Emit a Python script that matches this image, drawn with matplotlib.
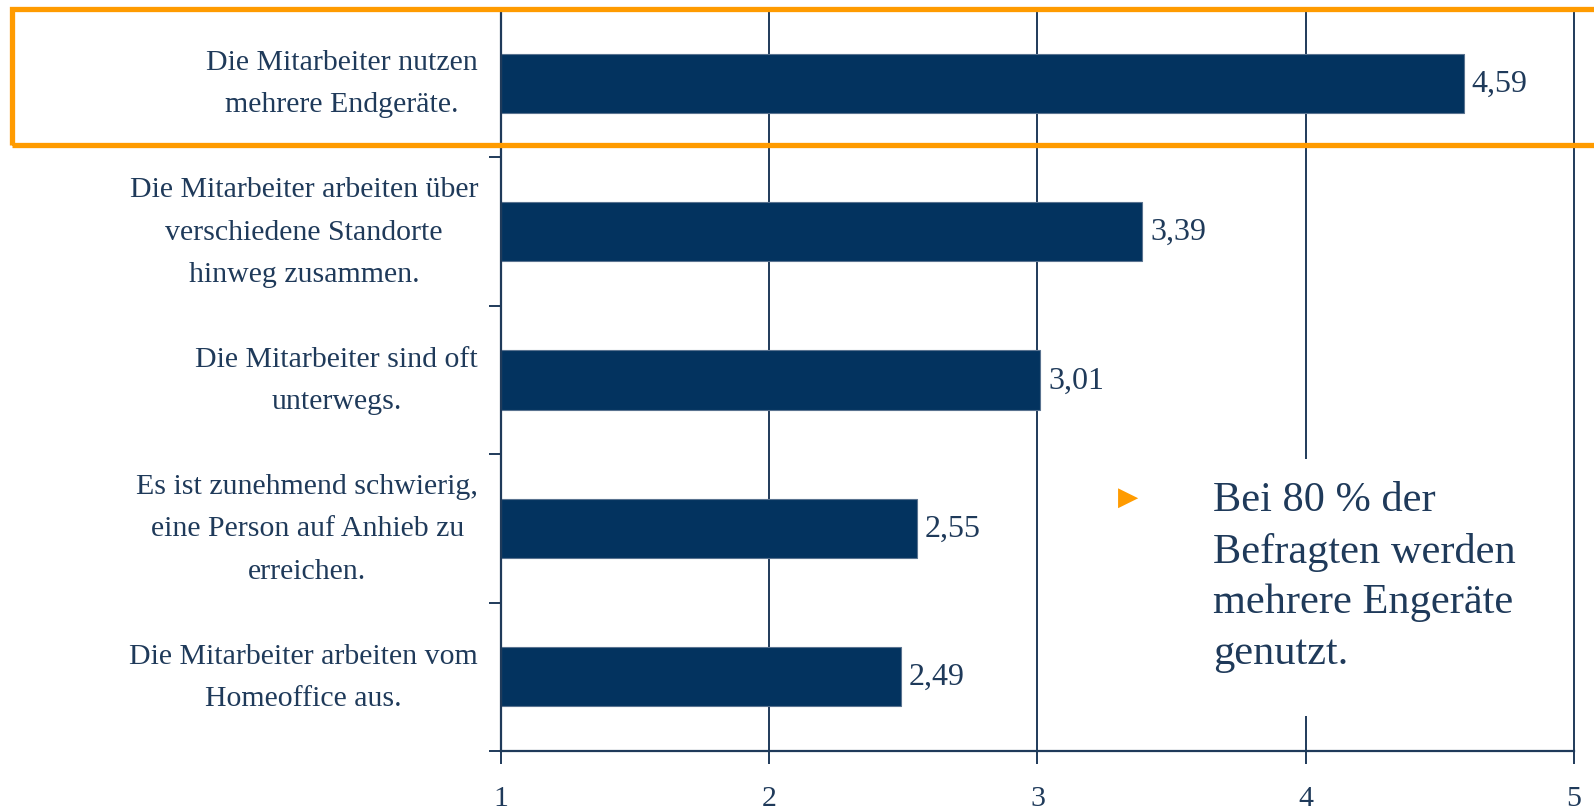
import matplotlib

matplotlib.use("Agg")
import matplotlib.pyplot as plt
from matplotlib.patches import Rectangle

# survey statements (top to bottom) and their mean agreement score
statements = [
    "Die Mitarbeiter nutzen\nmehrere Endgeräte.",
    "Die Mitarbeiter arbeiten über\nverschiedene Standorte\nhinweg zusammen.",
    "Die Mitarbeiter sind oft\nunterwegs.",
    "Es ist zunehmend schwierig,\neine Person auf Anhieb zu\nerreichen.",
    "Die Mitarbeiter arbeiten vom\nHomeoffice aus.",
]
scores = [4.59, 3.39, 3.01, 2.55, 2.49]
score_labels = ["4,59", "3,39", "3,01", "2,55", "2,49"]
x_ticks = [1, 2, 3, 4, 5]
note = "Bei 80 % der\nBefragten werden\nmehrere Engeräte\ngenutzt."

NAVY = "#03335f"
INK = "#1f3a5a"
ORANGE = "#ff9b00"
SERIF = "Liberation Serif"

plt.rcParams["font.family"] = [SERIF, "DejaVu Sans"]

fig = plt.figure(figsize=(15.94, 8.12), dpi=100)
ax = fig.add_axes([0.3143, 0.0739, 0.6730, 0.9138])

ypos = list(range(len(statements) - 1, -1, -1))
base = x_ticks[0]
ax.barh(ypos, [s - base for s in scores], left=base, height=0.4,
        color=NAVY, edgecolor="#5a7390", linewidth=0.8, zorder=2)
for y, s, lab in zip(ypos, scores, score_labels):
    ax.text(s + 0.03, y, lab, va="center", ha="left", fontsize=23,
            color=INK, family=SERIF, zorder=3)

ax.set_xlim(x_ticks[0], x_ticks[-1])
ax.set_ylim(-0.5, 4.5)
ax.set_xticks(x_ticks)
ax.set_xticklabels([str(t) for t in x_ticks], fontsize=21.5, color=INK)
ax.set_yticks(ypos)
ax.set_yticklabels(statements, fontsize=21.5, color=INK,
                   multialignment="center", linespacing=1.82)
for lbl in ax.get_yticklabels():
    lbl.set_va("center")
ax.set_yticks([y - 0.5 for y in range(len(statements))], minor=True)
ax.tick_params(axis="y", which="major", length=0, pad=16.5)
ax.tick_params(axis="y", which="minor", length=9, width=1.4, color=INK,
               direction="out")
ax.tick_params(axis="x", which="major", length=9, width=1.4, color=INK,
               direction="out", pad=15.5)

for side in ("top", "right"):
    ax.spines[side].set_visible(False)
for side in ("left", "bottom"):
    ax.spines[side].set_color(INK)
    ax.spines[side].set_linewidth(1.6)

ax.set_axisbelow(True)
ax.grid(axis="x", color=INK, linewidth=1.4)
for gl in ax.get_xgridlines():
    gl.set_clip_on(False)

# white panel behind the side note
ax.add_patch(Rectangle((0.735, 0.117), 0.225, 0.3165, transform=fig.transFigure,
                       facecolor="white", edgecolor="none", zorder=1.5))
fig.text(0.7077, 0.3867, "\u25B6", fontsize=19, color=ORANGE, ha="center",
         va="center", family="DejaVu Sans")
fig.text(0.761, 0.4065, note, fontsize=30.5, color=INK, ha="left", va="top",
         linespacing=1.41, family=SERIF)

# orange highlight frame around the first statement
fig.add_artist(Rectangle((12 / 1594, 1 - 146 / 812), 1.0, 136 / 812,
                         transform=fig.transFigure, facecolor="none",
                         edgecolor=ORANGE, linewidth=3.8, clip_on=False))

fig.savefig("out.png", dpi=100)
